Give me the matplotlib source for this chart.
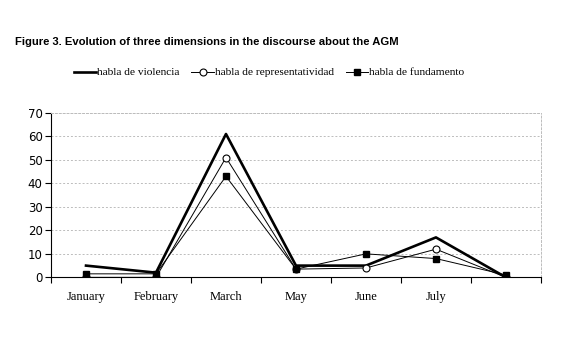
import matplotlib.pyplot as plt

months = ["January", "February", "March", "May", "June", "July", ""]
violencia = [5, 2, 61, 5, 5, 17, 0]
representatividad = [0, 0, 51, 3.5, 4, 12, 0]
fundamento = [1.5, 1.5, 43, 3.5, 10, 8, 1]

fig = plt.figure(figsize=(5.7, 3.42), dpi=100)
ax = fig.add_axes([0.0895, 0.189, 0.8595, 0.481])

x = range(len(months))
ax.plot(x, violencia, '-', color='black', lw=1.9, label='habla de violencia')
ax.plot(x, representatividad, '-o', color='black', lw=0.7, ms=5,
        mfc='white', mec='black', mew=0.8, label='habla de representatividad')
ax.plot(x, fundamento, '-s', color='black', lw=0.7, ms=5,
        label='habla de fundamento')

ax.set_xlim(-0.5, len(months) - 0.5)
ax.set_ylim(0, 70)
ax.set_yticks(range(0, 71, 10))
ax.set_xticks(list(x))
ax.set_xticklabels(months, family='Liberation Serif', fontsize=9)
ax.set_xticks([i - 0.5 for i in range(len(months) + 1)], minor=True)
ax.tick_params(axis='x', which='major', length=0, pad=10)
ax.tick_params(axis='x', which='minor', length=4, direction='out', width=0.8)
ax.tick_params(axis='y', length=4, direction='out', width=0.8, labelsize=8.5, pad=2)

ax.yaxis.grid(True, linestyle=(0, (2, 2)), color='#bcbcbc', lw=0.7)
ax.set_axisbelow(True)
for side in ['top', 'right']:
    ax.spines[side].set_linestyle((0, (2, 2)))
    ax.spines[side].set_color('#bcbcbc')
    ax.spines[side].set_linewidth(0.7)
ax.spines['left'].set_linewidth(0.8)
ax.spines['bottom'].set_linewidth(0.8)

fig.text(0.026, 0.878, 'Figure 3. Evolution of three dimensions in the discourse about the AGM',
         fontsize=8.1, fontweight='bold', family='Liberation Sans', va='center')

fig.legend(loc='center', bbox_to_anchor=(0.472, 0.788), ncol=3, frameon=False,
           prop={'family': 'Liberation Serif', 'size': 8.2},
           handlelength=2.0, handletextpad=0.1, columnspacing=1.0)

fig.savefig('out.png', dpi=100)
